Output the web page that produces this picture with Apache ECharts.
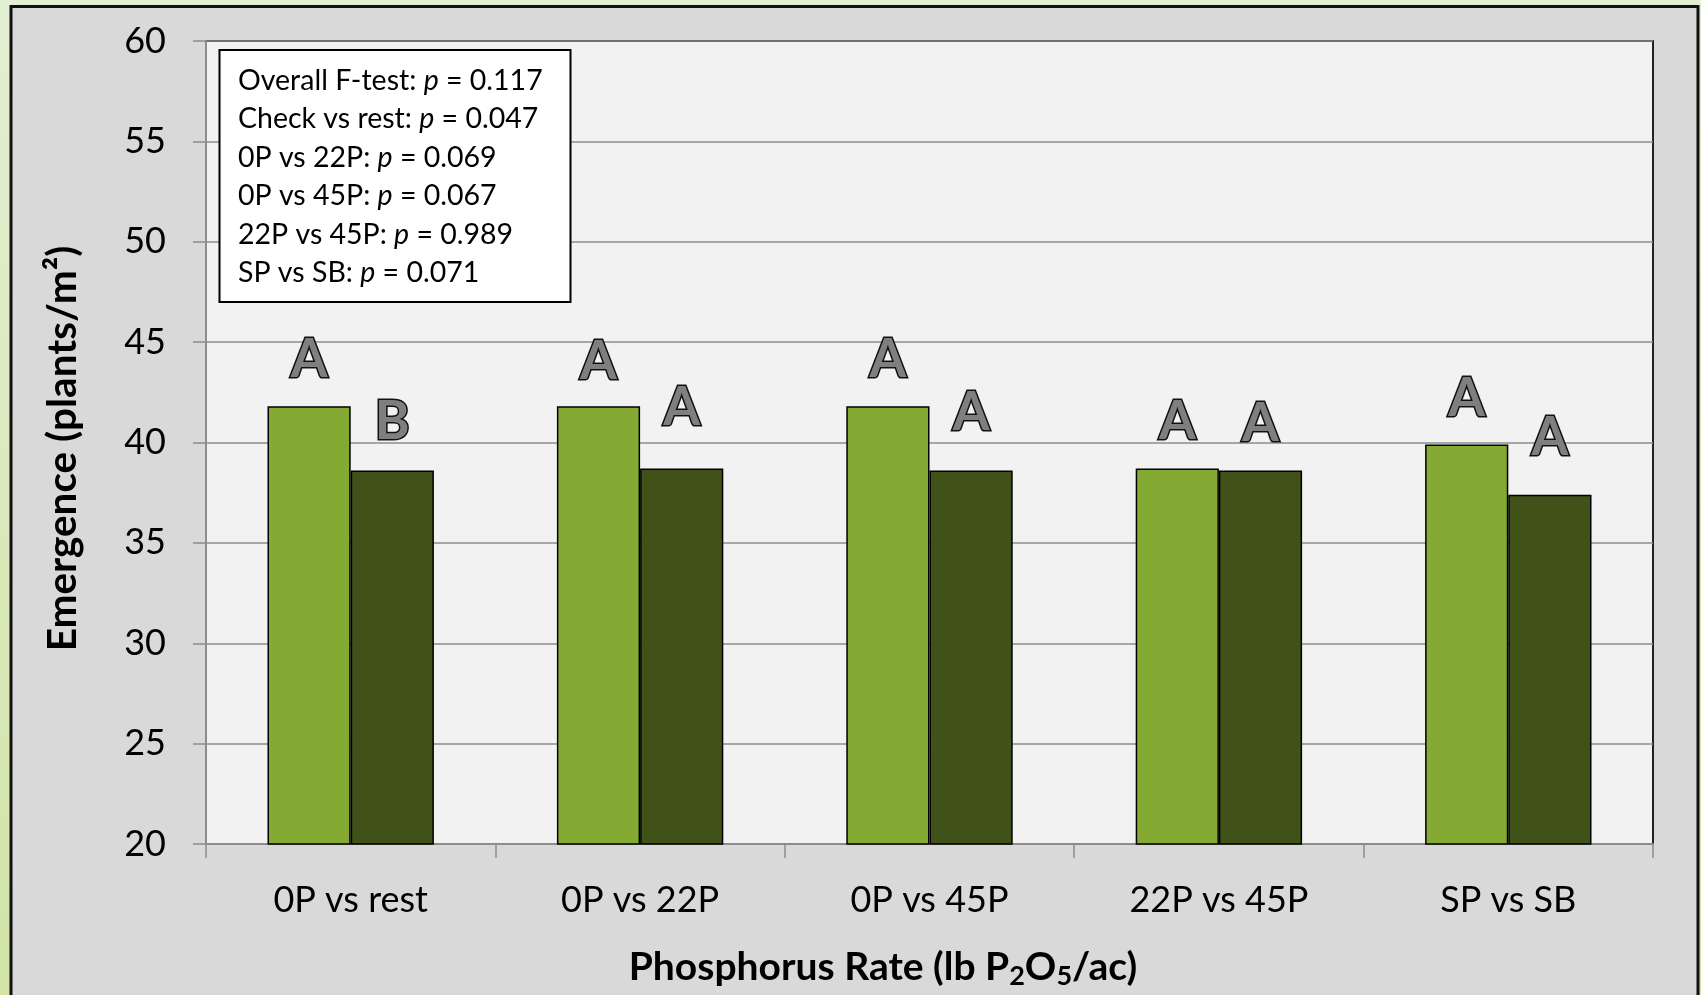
<!DOCTYPE html>
<html>
<head>
<meta charset="utf-8">
<title>Emergence by phosphorus rate contrast</title>
<script src="https://cdn.jsdelivr.net/npm/echarts@6/dist/echarts.min.js"></script>
<style>
  html, body { margin: 0; padding: 0; }
  #chart { width: 1701px; height: 995px; }
</style>
</head>
<body>
<div id="chart"></div>
<script>
// Contrast groups along the x axis
const categories = ['0P vs rest', '0P vs 22P', '0P vs 45P', '22P vs 45P', 'SP vs SB'];

// Emergence (plants/m²) for the first and second member of each contrast
const firstValues = [41.8, 41.8, 41.8, 38.7, 39.9];
const secondValues = [38.6, 38.7, 38.6, 38.6, 37.4];

// Mean-separation letters and the height at which each letter sits
const firstLetters = ['A', 'A', 'A', 'A', 'A'];
const secondLetters = ['B', 'A', 'A', 'A', 'A'];
const firstLetterAt = [43.2, 43.1, 43.2, 40.1, 41.25];
const secondLetterAt = [40.1, 40.8, 40.55, 40.0, 39.3];

// Contrast test results shown in the inset box
const statLines = [
  ['Overall F-test: ', '0.117'],
  ['Check vs rest: ', '0.047'],
  ['0P vs 22P: ', '0.069'],
  ['0P vs 45P: ', '0.067'],
  ['22P vs 45P: ', '0.989'],
  ['SP vs SB: ', '0.071']
];

const yTicks = { min: 20, max: 60, interval: 5 };

const FONT = 'Lato, "Noto Sans", sans-serif';
const LIGHT = '#84AA33';
const DARK = '#415219';

const chart = echarts.init(document.getElementById('chart'), null, { renderer: 'canvas' });

// Transparent spacer bars stacked on the data bars carry the letters
const spacer = (vals, tops) => tops.map((t, i) => t - vals[i]);

const letterLabel = (letters) => ({
  show: true,
  position: 'top',
  distance: -8,
  formatter: (p) => letters[p.dataIndex],
  fontFamily: FONT,
  fontWeight: 'bold',
  fontSize: 53,
  color: '#7F7F7F',
  textBorderColor: '#111',
  textBorderWidth: 3
});

const statGraphics = [];
statLines.forEach((ln, i) => {
  statGraphics.push({
    type: 'text',
    left: 238,
    top: 66 + i * 38.5,
    z: 101,
    style: {
      text: ln[0] + '{i|p} = ' + ln[1],
      fontFamily: FONT,
      fontSize: 28.5,
      fill: '#000',
      rich: {
        i: { fontFamily: FONT, fontSize: 28.5, fontStyle: 'italic', fill: '#000' }
      }
    }
  });
});

const option = {
  backgroundColor: {
    type: 'linear', x: 0, y: 0, x2: 0, y2: 1,
    colorStops: [{ offset: 0, color: '#E3EFD3' }, { offset: 1, color: '#D1E4A6' }]
  },
  animation: false,
  graphic: [
    {
      type: 'rect',
      z: -10,
      shape: { x: 11, y: 6.5, width: 1687, height: 1000 },
      style: { fill: '#D9D9D9', stroke: '#111', lineWidth: 3 }
    },
    {
      type: 'rect',
      z: 100,
      shape: { x: 219.5, y: 50, width: 351, height: 252 },
      style: { fill: '#fff', stroke: '#000', lineWidth: 2 }
    },
    ...statGraphics
  ],
  grid: {
    left: 206, right: 48, top: 41, bottom: 149,
    show: true,
    backgroundColor: '#F2F2F2',
    borderColor: '#222',
    borderWidth: 2
  },
  xAxis: {
    type: 'category',
    data: categories,
    axisLine: { show: true, lineStyle: { color: '#8C8C8C', width: 2 } },
    axisTick: { show: true, length: 14, lineStyle: { color: '#8C8C8C', width: 1.5 } },
    axisLabel: { fontFamily: FONT, fontSize: 36, color: '#000', margin: 38 },
    name: 'Phosphorus Rate (lb P{sub|2}O{sub|5}/ac)',
    nameLocation: 'middle',
    nameGap: 100,
    nameTextStyle: {
      fontFamily: FONT, fontSize: 39, fontWeight: 'bold', color: '#000',
      lineHeight: 46,
      padding: [0, 93, 0, 0],
      rich: {
        sub: { fontFamily: FONT, fontSize: 27, fontWeight: 'bold', color: '#000', verticalAlign: 'bottom', lineHeight: 18 }
      }
    }
  },
  yAxis: {
    type: 'value',
    min: yTicks.min, max: yTicks.max, interval: yTicks.interval,
    axisLine: { show: true, lineStyle: { color: '#8C8C8C', width: 2 } },
    axisTick: { show: true, length: 13, lineStyle: { color: '#8C8C8C', width: 1.5 } },
    splitLine: { show: true, lineStyle: { color: '#8C8C8C', width: 1.5 } },
    axisLabel: { fontFamily: FONT, fontSize: 36, color: '#000', margin: 40 },
    name: 'Emergence (plants/m²)',
    nameLocation: 'middle',
    nameGap: 123,
    nameTextStyle: {
      fontFamily: FONT, fontSize: 40.5, fontWeight: 'bold', color: '#000',
      padding: [0, 12, 0, 0]
    }
  },
  series: [
    {
      type: 'bar', name: 'first', stack: 'one',
      data: firstValues,
      barGap: '0%', barCategoryGap: '42.5%',
      itemStyle: { color: LIGHT, borderColor: '#000', borderWidth: 1.5 }
    },
    {
      type: 'bar', name: 'second', stack: 'two',
      data: secondValues,
      itemStyle: { color: DARK, borderColor: '#000', borderWidth: 1.5 }
    },
    {
      type: 'bar', name: 'firstLetters', stack: 'one', silent: true,
      data: spacer(firstValues, firstLetterAt),
      itemStyle: { color: 'rgba(0,0,0,0)', borderWidth: 0 },
      label: letterLabel(firstLetters)
    },
    {
      type: 'bar', name: 'secondLetters', stack: 'two', silent: true,
      data: spacer(secondValues, secondLetterAt),
      itemStyle: { color: 'rgba(0,0,0,0)', borderWidth: 0 },
      label: letterLabel(secondLetters)
    }
  ]
};

chart.setOption(option);
</script>
</body>
</html>
